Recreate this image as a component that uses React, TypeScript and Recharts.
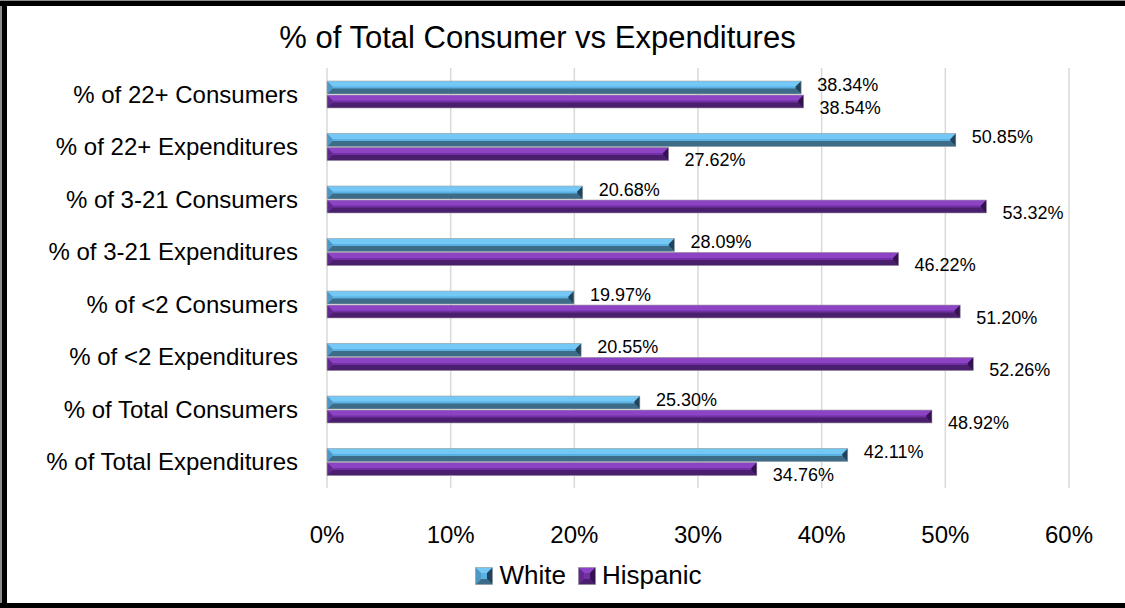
import React from 'react'
import { BarChart, Bar, XAxis, YAxis, CartesianGrid, LabelList } from 'recharts'

const categories = [
  '% of 22+ Consumers',
  '% of 22+ Expenditures',
  '% of 3-21 Consumers',
  '% of 3-21 Expenditures',
  '% of <2 Consumers',
  '% of <2 Expenditures',
  '% of Total Consumers',
  '% of Total Expenditures',
]
const whiteValues = [38.34, 50.85, 20.68, 28.09, 19.97, 20.55, 25.3, 42.11]
const hispanicValues = [38.54, 27.62, 53.32, 46.22, 51.2, 52.26, 48.92, 34.76]
const xTicks = [0, 10, 20, 30, 40, 50, 60]

const FONT = '"Liberation Sans", Arial, sans-serif'

const whiteTone = { top: '#74c8f6', face: '#5bb0e2', bottom: '#3d6c88', left: '#4f97c4', right: '#22445a' }
const hispTone = { top: '#8c44c4', face: '#7330a6', bottom: '#4a1f6e', left: '#62288f', right: '#341250' }

type Tone = typeof whiteTone

function bevel(x: number, y: number, w: number, h: number, t: Tone) {
  const b = Math.min(h / 2 - 1, w / 2, 5.5)
  if (w <= 0) return null
  return (
    <g>
      <rect x={x} y={y} width={w} height={h} fill={t.face} />
      <polygon points={`${x},${y} ${x + w},${y} ${x + w - b},${y + b} ${x + b},${y + b}`} fill={t.top} />
      <polygon points={`${x},${y + h} ${x + w},${y + h} ${x + w - b},${y + h - b} ${x + b},${y + h - b}`} fill={t.bottom} />
      <polygon points={`${x},${y} ${x + b},${y + b} ${x + b},${y + h - b} ${x},${y + h}`} fill={t.left} />
      <polygon points={`${x + w},${y} ${x + w - b},${y + b} ${x + w - b},${y + h - b} ${x + w},${y + h}`} fill={t.right} />
      <rect x={x} y={y} width={w} height={h} fill="none" stroke="#a6a6a6" strokeWidth={0.6} />
    </g>
  )
}

const makeShape = (t: Tone) => (p: any) => bevel(p.x, p.y, p.width, p.height, t)

const makeLabel = (dy: number) => (p: any) => {
  const { x, y, width, height, value } = p
  return (
    <text
      x={x + width + 16}
      y={y + height / 2 + dy}
      dominantBaseline="central"
      fontSize={18}
      fontFamily={FONT}
      fill="#000"
    >
      {Number(value).toFixed(2)}%
    </text>
  )
}

const XTick = ({ x, y, payload }: any) => (
  <text x={x} y={y + 47} textAnchor="middle" fontSize={24} fontFamily={FONT} fill="#000">
    {payload.value}%
  </text>
)

const data = categories.map((name, i) => ({
  name,
  white: whiteValues[i],
  hispanic: hispanicValues[i],
}))

export default function App() {
  return (
    <div style={{ position: 'absolute', left: 0, top: 0, width: 1125, height: 608, background: '#fff', fontFamily: FONT }}>
      <div
        style={{
          position: 'absolute',
          left: 0,
          right: 0,
          top: 20,
          textAlign: 'center',
          paddingRight: 50,
          fontSize: 31,
          color: '#000',
        }}
      >
        % of Total Consumer vs Expenditures
      </div>
      <BarChart
        width={1125}
        height={608}
        data={data}
        layout="vertical"
        margin={{ top: 68, right: 56, bottom: 70, left: 0 }}
        barSize={13}
        barGap={1}
      >
        <CartesianGrid horizontal={false} stroke="#d9d9d9" strokeWidth={1.5} />
        <XAxis
          type="number"
          domain={[0, 60]}
          ticks={xTicks}
          height={50}
          axisLine={false}
          tickLine={false}
          tick={<XTick />}
        />
        <YAxis
          type="category"
          dataKey="name"
          width={327}
          axisLine={false}
          tickLine={false}
          tickSize={0}
          tickMargin={29}
          tick={{ fontSize: 24, fill: '#000', fontFamily: FONT }}
        />
        <Bar dataKey="white" shape={makeShape(whiteTone)} isAnimationActive={false}>
          <LabelList dataKey="white" content={makeLabel(-3)} />
        </Bar>
        <Bar dataKey="hispanic" shape={makeShape(hispTone)} isAnimationActive={false}>
          <LabelList dataKey="hispanic" content={makeLabel(6)} />
        </Bar>
      </BarChart>
      <div
        style={{
          position: 'absolute',
          top: 560,
          left: 0,
          right: 0,
          display: 'flex',
          justifyContent: 'center',
          alignItems: 'center',
          paddingLeft: 52,
          fontSize: 26,
          color: '#000',
        }}
      >
        <svg width={18} height={18} style={{ marginRight: 6 }}>{bevel(0.5, 0.5, 17, 17, whiteTone)}</svg>
        <span style={{ marginRight: 12 }}>White</span>
        <svg width={18} height={18} style={{ marginRight: 6 }}>{bevel(0.5, 0.5, 17, 17, hispTone)}</svg>
        <span>Hispanic</span>
      </div>
      <div style={{ position: 'absolute', left: 0, top: 0, width: 2, height: 608, background: '#8c8c8c' }} />
      <div style={{ position: 'absolute', left: 2, top: 0, width: 5, height: 608, background: '#000' }} />
      <div style={{ position: 'absolute', left: 0, top: 0, width: 1125, height: 1, background: '#8c8c8c' }} />
      <div style={{ position: 'absolute', left: 0, top: 1, width: 1125, height: 5, background: '#000' }} />
      <div style={{ position: 'absolute', left: 0, top: 603, width: 1125, height: 5, background: '#000' }} />
    </div>
  )
}
